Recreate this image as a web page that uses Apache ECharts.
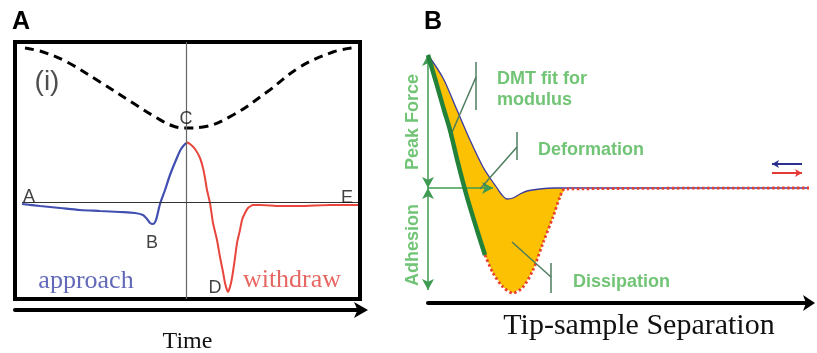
<!DOCTYPE html>
<html><head><meta charset="utf-8">
<script src="https://cdn.jsdelivr.net/npm/echarts@6/dist/echarts.min.js"></script>
<style>html,body{margin:0;padding:0;background:#fff}#c{width:817px;height:353px}</style>
</head><body><div id="c"></div>
<script>
// ---------- Panel A: force vs time (arbitrary units) ----------
const approachT = [7,25,45,65,85,105,120,128,132,135,138,141,145,150,155,161,166,171];
const approachF = [-2,-4,-6,-8,-9,-10,-11,-13,-17,-21,-22,-18,-2,12,27,42,53,59];
const withdrawT = [171,175,180,185,188,190,192,195,198,202,205,208,210,212,213,215,217,220,222,225,227,230,233,238,245,265,285,315,343];
const withdrawF = [60,58,53,44,34,24,12,-1,-21,-38,-55,-70,-81,-88,-90,-85,-76,-56,-41,-28,-18,-11,-6,-3,-3,-4,-4,-3,-3];
// tip (z) position, dashed curve
const zT   = [10,28,52,85,118,142,158,170,188,218,252,285,318,337];
const zPos = [154,150,140,120,99,84,76,74,75,87,110,135,150,154];
const peakTime = 171;
const baselineT = [7,343];
// point labels
const ptLabels = ['A','B','C','D','E'];
const ptT      = [14,137,171,200,332];
const ptF      = [5,-41,83,-86,4];

// ---------- Panel B: force vs tip-sample separation ----------
const apprSep   = [0,15,29,42,55,62,69,74,79,85,92,99,112,127,137,381];
const apprForce = [133,110,78,48,21,10,0,-7,-11,-10,-6,-3,-1,0,0,0];
const dmtSep    = [0,8,16,22,30,39,49,57];
const dmtForce  = [133,106,78,58,25,-9,-42,-67];
const wdSep     = [57,65,75,85,95,105,115,125,132,137,381];
const wdForce   = [-67,-85,-99,-105,-99,-82,-55,-29,-9,-1,0];
const peakForce = 133;
const adhesion  = -102;
const deformation = 65;
// callouts: [startSep,startF,endSep,endF]
const leaderDMT  = [22,51,48,111];
const tickDMT    = [48,126,48,78];
const leaderDef  = [52,-1,89,41];
const tickDef    = [89,56,89,28];
const leaderDis  = [84,-54,123,-89];
const tickDis    = [123,-75,123,-105];
const legendSep  = [344,374];
const legendF    = [24,15];
const annoText = ['DMT fit for','modulus','Deformation','Dissipation'];
const annoSep  = [69,69,110,145];
const annoF    = [109,88,38,-94];
const sideText = ['Peak Force','Adhesion'];
const sideSep  = [-15,-15];
const sideF    = [66,-57];

const pair = (xs, ys) => xs.map((x, i) => [x, ys[i]]);
const sans = 'Liberation Sans', serif = 'Liberation Serif';
const green = '#4db553', arrowGreen = '#3f9b52', leaderCol = '#4d7d5e';

// yellow dissipation polygon: approach (until re-contact) then withdraw back, then DMT back
const contactEnd = wdSep[wdSep.length - 2];
const poly = pair(apprSep, apprForce).filter(p => p[0] <= contactEnd)
  .concat(pair(wdSep, wdForce).filter(p => p[0] <= contactEnd).reverse())
  .concat(pair(dmtSep, dmtForce).reverse());

const seg = (a, c, w) => [{coord:[a[0],a[1]], symbol:'none', lineStyle:{color:c, width:w, type:'solid'}}, {coord:[a[2],a[3]], symbol:'none'}];

const chart = echarts.init(document.getElementById('c'), null, {renderer:'canvas'});
chart.setOption({
  animation:false,
  title:[
    {text:'A', left:12, top:10, padding:0, textStyle:{fontFamily:sans, fontSize:25, fontWeight:'bold', color:'#000'}},
    {text:'B', left:424, top:10, padding:0, textStyle:{fontFamily:sans, fontSize:25, fontWeight:'bold', color:'#000'}}
  ],
  grid:[
    {left:15, top:42, width:345, height:257, show:true, borderColor:'#000', borderWidth:4, outerBoundsMode:'none', containLabel:false},
    {left:428, top:40, width:381, height:263, outerBoundsMode:'none', containLabel:false}
  ],
  xAxis:[
    {gridIndex:0, type:'value', min:0, max:345, position:'bottom', offset:11,
     axisLine:{show:true, onZero:false, lineStyle:{color:'#000', width:4}, symbol:['none','arrow'], symbolSize:[12,14], symbolOffset:[0,8]},
     axisTick:{show:false}, axisLabel:{show:false}, splitLine:{show:false},
     name:'Time', nameLocation:'middle', nameGap:20, nameTextStyle:{fontFamily:serif, fontSize:24, color:'#111'}},
    {gridIndex:1, type:'value', min:0, max:381, position:'bottom',
     axisLine:{show:true, onZero:false, lineStyle:{color:'#000', width:4}, symbol:['none','arrow'], symbolSize:[12,12], symbolOffset:[0,6]},
     axisTick:{show:false}, axisLabel:{show:false}, splitLine:{show:false},
     name:'Tip-sample Separation', nameLocation:'middle', nameGap:8,
     nameTextStyle:{fontFamily:serif, fontSize:30, color:'#111', padding:[0,0,0,41]}}
  ],
  yAxis:[
    {gridIndex:0, type:'value', min:-97, max:160, show:false},
    {gridIndex:1, type:'value', min:-115, max:148, show:false}
  ],
  series:[
    // ----- Panel A -----
    {type:'line', xAxisIndex:0, yAxisIndex:0, data:pair(zT, zPos), smooth:0.4, symbol:'none',
     lineStyle:{color:'#000', width:3, type:[9,6]}, z:3,
     markLine:{silent:true, symbol:'none', label:{show:false}, animation:false,
       data:[
         [{coord:[peakTime,-97], lineStyle:{color:'#666', width:1.2, type:'solid'}}, {coord:[peakTime,160]}],
         [{coord:[baselineT[0],0], lineStyle:{color:'#333', width:1.2, type:'solid'}}, {coord:[baselineT[1],0]}]
       ]}},
    {type:'line', xAxisIndex:0, yAxisIndex:0, data:pair(approachT, approachF), smooth:0.3, symbol:'none',
     lineStyle:{color:'#4150b0', width:2.2}, z:4},
    {type:'line', xAxisIndex:0, yAxisIndex:0, data:pair(withdrawT, withdrawF), smooth:0.15, symbol:'none',
     lineStyle:{color:'#e8453c', width:2}, z:4},
    {type:'scatter', xAxisIndex:0, yAxisIndex:0, symbolSize:0, clip:false, silent:true, z:6,
     data:ptLabels.map((t,i)=>({name:t, value:[ptT[i], ptF[i]]})),
     label:{show:true, position:'inside', formatter:'{b}', fontFamily:sans, fontSize:18, color:'#111'}},
    {type:'scatter', xAxisIndex:0, yAxisIndex:0, symbolSize:0, clip:false, silent:true, z:6,
     data:[
       {name:'(i)', value:[32,120], label:{fontFamily:sans, fontSize:28, color:'#222'}},
       {name:'approach', value:[71,-79], label:{fontFamily:serif, fontSize:26, color:'#3a44a6'}},
       {name:'withdraw', value:[277,-78], label:{fontFamily:serif, fontSize:26, color:'#e0413a'}}
     ],
     label:{show:true, position:'inside', formatter:'{b}'}},
    // ----- Panel B -----
    {type:'custom', xAxisIndex:1, yAxisIndex:1, data:[[0,0]], z:1, silent:true,
     renderItem:(params, api) => ({type:'polygon', shape:{points: poly.map(p => api.coord(p))},
       style:{fill:'#fbc102', stroke:'none'}})},
    {type:'line', xAxisIndex:1, yAxisIndex:1, data:pair(apprSep, apprForce), smooth:0.3, symbol:'none',
     lineStyle:{color:'#3b3ba0', width:1.3}, z:3},
    {type:'line', xAxisIndex:1, yAxisIndex:1, data:pair(wdSep, wdForce), smooth:0.3, symbol:'none',
     lineStyle:{color:'#e8402a', width:2.8, type:[2.5,2.5]}, z:4},
    {type:'line', xAxisIndex:1, yAxisIndex:1, data:pair(dmtSep, dmtForce), smooth:0.3, symbol:'none',
     lineStyle:{color:'#23823a', width:4.5}, z:5,
     markLine:{silent:true, label:{show:false}, animation:false, symbolSize:[9,11],
       data:[
         [{coord:[0,peakForce], symbol:'arrow', lineStyle:{color:arrowGreen, width:1.5, type:'solid'}}, {coord:[0,0], symbol:'arrow'}],
         [{coord:[0,0], symbol:'arrow', lineStyle:{color:arrowGreen, width:1.5, type:'solid'}}, {coord:[0,adhesion], symbol:'arrow'}],
         [{coord:[0,0], symbol:'none', lineStyle:{color:arrowGreen, width:1.5, type:'solid'}}, {coord:[deformation,0], symbol:'arrow'}],
         seg(leaderDMT, leaderCol, 1.5), seg(tickDMT, leaderCol, 1.5),
         seg(leaderDef, leaderCol, 1.5), seg(tickDef, leaderCol, 1.5),
         seg(leaderDis, leaderCol, 1.5), seg(tickDis, leaderCol, 1.5),
         [{coord:[legendSep[0],legendF[0]], symbol:'arrow', symbolSize:[6,7], lineStyle:{color:'#2b2f8f', width:2, type:'solid'}}, {coord:[legendSep[1],legendF[0]], symbol:'none'}],
         [{coord:[legendSep[0],legendF[1]], symbol:'none', lineStyle:{color:'#e53935', width:2, type:'solid'}}, {coord:[legendSep[1],legendF[1]], symbol:'arrow', symbolSize:[6,7]}]
       ]}},
    {type:'scatter', xAxisIndex:1, yAxisIndex:1, symbolSize:0, clip:false, silent:true, z:6,
     data:annoText.map((t,i)=>({name:t, value:[annoSep[i], annoF[i]]})),
     label:{show:true, position:'right', distance:0, formatter:'{b}', fontFamily:sans, fontSize:18, fontWeight:'bold', color:green}},
    {type:'scatter', xAxisIndex:1, yAxisIndex:1, symbolSize:0, clip:false, silent:true, z:6,
     data:sideText.map((t,i)=>({name:t, value:[sideSep[i], sideF[i]]})),
     label:{show:true, position:'inside', rotate:90, formatter:'{b}', fontFamily:sans, fontSize:18, fontWeight:'bold', color:green}}
  ]
});
</script></body></html>
